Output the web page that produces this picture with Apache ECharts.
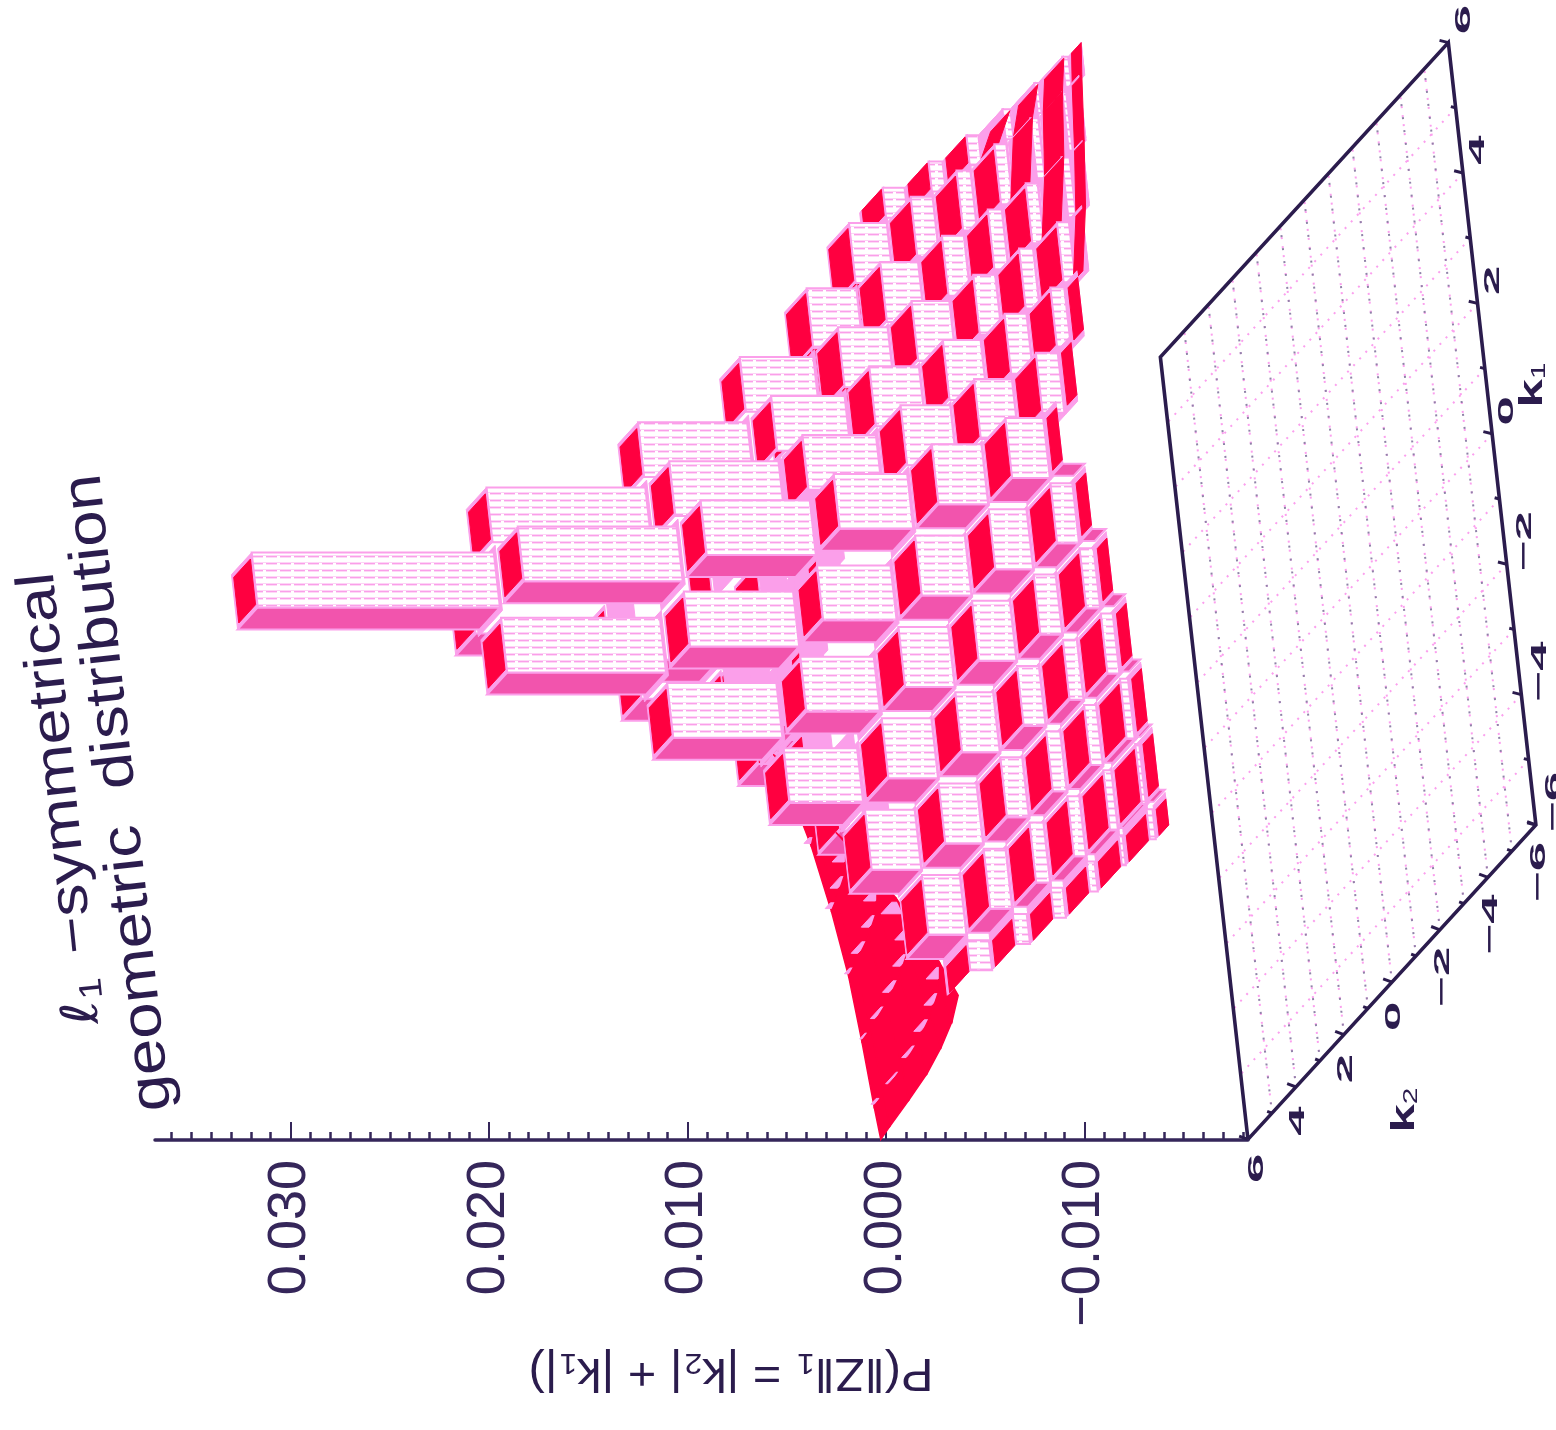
<!DOCTYPE html>
<html>
<head>
<meta charset="utf-8">
<style>html,body{margin:0;padding:0;background:#fff}#c{width:1556px;height:1430px}</style>
<script src="https://cdn.jsdelivr.net/npm/echarts@6/dist/echarts.min.js"></script>
</head>
<body>
<div id="c"></div>
<script>
// ---- data ----
const k2Values = [-6,-5,-4,-3,-2,-1,0,1,2,3,4,5,6];
const k1Values = [6,5,4,3,2,1,0,-1,-2,-3,-4,-5,-6];
// probability x 1e-4; rows are k1 = 6 ... -6, columns are k2 = -6 ... 6
const rowK1p6 = [0,3,5,9,15,22,33,22,15,9,5,3,0];
const rowK1p5 = [3,5,9,15,22,33,52,33,22,15,9,5,3];
const rowK1p4 = [5,9,15,22,33,52,77,52,33,22,15,9,5];
const rowK1p3 = [9,15,22,33,52,77,114,77,52,33,22,15,9];
const rowK1p2 = [15,22,33,52,77,114,169,114,77,52,33,22,15];
const rowK1p1 = [22,33,52,77,114,169,249,169,114,77,52,33,22];
const rowK1z0 = [33,52,77,114,169,249,371,249,169,114,77,52,33];
const rowK1m1 = [22,33,52,77,114,169,249,169,114,77,52,33,22];
const rowK1m2 = [15,22,33,52,77,114,169,114,77,52,33,22,15];
const rowK1m3 = [9,15,22,33,52,77,114,77,52,33,22,15,9];
const rowK1m4 = [5,9,15,22,33,52,77,52,33,22,15,9,5];
const rowK1m5 = [3,5,9,15,22,33,52,33,22,15,9,5,3];
const rowK1m6 = [0,3,5,9,15,22,33,22,15,9,5,3,0];
const rows = [rowK1p6,rowK1p5,rowK1p4,rowK1p3,rowK1p2,rowK1p1,rowK1z0,rowK1m1,rowK1m2,rowK1m3,rowK1m4,rowK1m5,rowK1m6];
const zTickLabels = [0.03,0.02,0.01,0,-0.01];
const kTickLabels = [6,4,2,0,-2,-4,-6];

// ---- view ----
const Z_FLOOR = -0.0185, PX_PER_Z = 19850;
const scaleP = 1e-4;
function inGrid(k1,k2){return Math.abs(k1)<=6&&Math.abs(k2)<=6;}
function height(k1,k2){
  if(!inGrid(k1,k2)) return 0;
  return rows[k1Values.indexOf(k1)][k2Values.indexOf(k2)]*scaleP;
}
function clampK(k){return Math.max(-6,Math.min(6,k));}
// oblique projection expressed in the two axes of the grid
function proj(api,k1,k2,z){
  const xv = z - (95 + 24*(-k2) - 7.3*k1)/PX_PER_Z;
  const yv = 591 + 26.2*k2 - 65.2*k1;
  return api.coord([xv,yv]);
}
function hatch(){
  const c=document.createElement('canvas');c.width=14;c.height=7;
  const g=c.getContext('2d');g.fillStyle='#fff';g.fillRect(0,0,14,7);
  g.fillStyle='#fa9fe9';g.fillRect(0,3,11,1.4);g.fillStyle='#fdd5f6';g.fillRect(0,2,14,1);
  return c;
}
const hatchFill={image:hatch(),repeat:'repeat'};
const RED='#ff0040',MID='#f254ad',RIM='#fb9fea';
function quad(pts,fill,stroke,lw){
  return {type:'polygon',shape:{points:pts},style:{fill:fill,stroke:stroke||fill,lineWidth:lw===undefined?1:lw}};
}
const cells=[];
k1Values.forEach(a=>k2Values.slice().reverse().forEach(b=>cells.push([a,b,height(a,b)])));
// mean level of the cells that meet at a cell corner
function cornerLevel(k1,k2,sa,sb){
  let sum=0,cnt=0;
  [[0,0],[sa,0],[0,sb],[sa,sb]].forEach(d=>{ if(inGrid(k1+d[0],k2+d[1])){sum+=height(k1+d[0],k2+d[1]);cnt++;} });
  return sum/cnt;
}

function renderCell(params,api){
  const k1=api.value(0),k2=api.value(1),z=api.value(2);
  const onEdge=Math.abs(k1)===6||Math.abs(k2)===6;
  let low=z;
  if(!onEdge) [[1,0],[-1,0],[0,1],[0,-1]].forEach(d=>{ low=Math.min(low,height(k1+d[0],k2+d[1])); });
  const children=[];
  const P=(da,db,zz)=>proj(api,clampK(k1+da),clampK(k2+db),zz);
  const n=Math.abs(k1)+Math.abs(k2);
  const HALF = n<4?0.42:0.46, TOPH = n<4?0.35:0.4;
  const aQuad = k1<0 && k2>0 && n>=5;
  const cQuad = k1>0 && k2<0 && n>=9;
  const nearK1=inGrid(k1-1,k2)?height(k1-1,k2):z;
  const nearK2=inGrid(k1,k2-1)?height(k1,k2-1):z;
  const b1=Math.min(z,nearK1), b2=Math.min(z,nearK2);
  if(aQuad){
    // the flat corner next to k1=-6, k2=6 reads as one sloped red sheet
    children.push(quad([P(-.5,-.5,cornerLevel(k1,k2,-1,-1)),P(-.5,.5,cornerLevel(k1,k2,-1,1)),
      P(.5,.5,cornerLevel(k1,k2,1,1)),P(.5,-.5,cornerLevel(k1,k2,1,-1))],RED,RED,1.5));
    if(z>b1){
      const tip=z-(z-b1)*.55;
      children.push(quad([P(-.46,-.22,z),P(-.46,.22,z),P(-.46,.22,tip),P(-.46,-.22,tip)],RIM,RIM,1));
    }
    return {type:'group',children:children};
  }
  children.push(quad([P(-.5,-.5,low),P(-.5,.5,low),P(.5,.5,low),P(.5,-.5,low)],RIM,RIM,1));
  // wall facing the k1 = -6 edge
  if(z>b1) children.push(quad([P(-HALF,-HALF,z),P(-HALF,HALF,z),P(-HALF,HALF,b1),P(-HALF,-HALF,b1)],MID,RIM,2));
  // wall facing the k2 = -6 edge
  if(z>b2) children.push(quad([P(-HALF,-HALF,z),P(HALF,-HALF,z),P(HALF,-HALF,b2),P(-HALF,-HALF,b2)],hatchFill,RIM,2));
  // top: reaches the outer border on the border cells
  children.push(quad([P(-HALF,-HALF,z),P(-HALF,HALF,z),P(HALF,HALF,z),P(HALF,-HALF,z)],RIM,RIM,1));
  const aLo = k1===-6?-.5:-TOPH, aHi = k1===6?.5:TOPH, bLo = k2===-6?-.5:-TOPH, bHi = k2===6?.5:TOPH;
  if(cQuad){
    // long stripes toward the k1=6, k2=-6 corner
    const zf=(z+height(k1+1,k2))/2, zn=(z+height(k1-1,k2))/2;
    children.push(quad([P(-.5,bLo,zn),P(-.5,bHi,zn),P(.5,bHi,zf),P(.5,bLo,zf)],RED,RED,1));
  } else {
    children.push(quad([P(aLo,bLo,z),P(aLo,bHi,z),P(aHi,bHi,z),P(aHi,bLo,z)],RED,RED,1));
  }
  return {type:'group',children:children};
}

// floor: outline, dotted grid and ticks
const floorItems=[];
k2Values.forEach(k=>floorItems.push(['v',k]));
k1Values.forEach(k=>floorItems.push(['u',k]));
function renderFloor(params,api){
  const kind=params.dataIndex<13?'v':'u', k=api.value(1);
  const ends = kind==='v' ? [proj(api,-6,k,Z_FLOOR),proj(api,6,k,Z_FLOOR)] : [proj(api,k,-6,Z_FLOOR),proj(api,k,6,Z_FLOOR)];
  const ln=(c,d,off)=>({type:'line',shape:{x1:ends[0][0],y1:ends[0][1],x2:ends[1][0],y2:ends[1][1]},
    style:{stroke:c,lineWidth:2,lineDash:d,lineDashOffset:off}});
  const kids=[ln('#fb9fee',[2,7],0)];
  if(kind==='v') kids.push(ln('#8f83a8',[2,11],4));
  return {type:'group',children:kids};
}
const outlineCorners=[[-6,6],[-6,-6],[6,-6],[6,6],[-6,6]];
function renderOutline(params,api){
  const pts=outlineCorners.map(c=>proj(api,c[0],c[1],Z_FLOOR));
  const kids=[{type:'polyline',shape:{points:pts},style:{stroke:'#2b1c4d',lineWidth:3.6,fill:null}}];
  k2Values.forEach(k=>{
    const a=proj(api,-6,k,Z_FLOOR),L=k%2===0?11:6;
    kids.push({type:'line',shape:{x1:a[0],y1:a[1],x2:a[0]-L*.8,y2:a[1]-L*.3},style:{stroke:'#2b1c4d',lineWidth:3}});
    const c=proj(api,k,-6,Z_FLOOR);
    kids.push({type:'line',shape:{x1:c[0],y1:c[1],x2:c[0]-L*.8,y2:c[1]-L*.2},style:{stroke:'#2b1c4d',lineWidth:3}});
  });
  return {type:'group',children:kids};
}
// tick labels of the floor axes
const k2Labels=kTickLabels.map(k=>[k,0]);
const k1Labels=kTickLabels.map(k=>[k,0]);
function kText(x,y,t){
  return {type:'text',x:x,y:y,rotation:Math.PI/2,scaleX:2.2,scaleY:0.95,
    style:{text:t,fontFamily:'Liberation Sans',fontSize:24,fill:'#2b1c4d',fontWeight:'bold',align:'center',verticalAlign:'middle'}};
}
function labelText(k){return k<0?'\u2212'+Math.abs(k):String(k);}
function renderK2Label(params,api){
  const k=api.value(0),p=proj(api,-6,k,Z_FLOOR);
  if(k===6) return kText(p[0]+9,p[1]+29,labelText(k));
  return kText(p[0]+(k<0?3:2), p[1]+(k<0?47:34), labelText(k));
}
function renderK1Label(params,api){
  const k=api.value(0),p=proj(api,k,-6,Z_FLOOR);
  return kText(p[0]+(k<0?18:15), p[1]-23, labelText(k));
}
const axisColor='#35265a';
const zMinorTicks=[];
for(let i=-18;i<=36;i++) if(i%10!==0) zMinorTicks.push(i/1000);

const chart=echarts.init(document.getElementById('c'),null,{renderer:'canvas',width:1556,height:1430});
chart.setOption({
  animation:false,backgroundColor:'#fff',
  grid:{left:155,top:0,width:1093,height:1140},
  xAxis:[{
    type:'value',inverse:true,min:-0.01824,max:0.03683,position:'bottom',splitLine:{show:false},
    axisLine:{show:true,onZero:false,lineStyle:{color:axisColor,width:3.5}},
    axisTick:{show:true,inside:true,length:18,customValues:zTickLabels,lineStyle:{color:axisColor,width:2}},
    axisLabel:{show:true,rotate:90,margin:20,customValues:zTickLabels,color:axisColor,
      fontFamily:'Liberation Sans',fontSize:54,formatter:v=>(v<0?'\u2212':'')+Math.abs(v).toFixed(3)}
  },{
    type:'value',inverse:true,min:-0.01824,max:0.03683,position:'bottom',splitLine:{show:false},
    axisLine:{show:false,onZero:false},axisLabel:{show:false},
    axisTick:{show:true,inside:true,length:8,customValues:zMinorTicks,lineStyle:{color:axisColor,width:2.5}}
  }],
  yAxis:{type:'value',inverse:true,min:0,max:1140,show:false},
  series:[
    {type:'custom',coordinateSystem:'cartesian2d',clip:false,silent:true,data:floorItems.map(d=>[0,d[1]]),renderItem:renderFloor,z:1},
    {type:'custom',coordinateSystem:'cartesian2d',clip:false,silent:true,data:[[0,0]],renderItem:renderOutline,z:2},
    {type:'custom',coordinateSystem:'cartesian2d',clip:false,silent:true,data:k2Labels,renderItem:renderK2Label,z:2},
    {type:'custom',coordinateSystem:'cartesian2d',clip:false,silent:true,data:k1Labels,renderItem:renderK1Label,z:2},
    {type:'custom',coordinateSystem:'cartesian2d',clip:false,silent:true,data:cells,renderItem:renderCell,z:3}
  ],
  graphic:[
    {type:'text',x:112,y:1022,rotation:(90+6)*Math.PI/180,scaleX:1.2,style:{
      rich:{a:{fontFamily:'DejaVu Sans',fontSize:50,fill:'#2b1c4d',fontStyle:'italic'},
            s:{fontFamily:'Liberation Sans',fontSize:32,fill:'#2b1c4d',verticalAlign:'bottom',padding:[22,6,0,0]},
            t:{fontFamily:'Liberation Sans',fontSize:54,fill:'#2b1c4d'}},
      text:'{a|\u2113}{s|1}{t| \u2212symmetrical}',align:'left',verticalAlign:'bottom'}},
    {type:'text',x:183,y:1108,rotation:(90+6.4)*Math.PI/180,scaleX:1.17,style:{
      text:'geometric  distribution',fontFamily:'Liberation Sans',fontSize:56,fill:'#2b1c4d',align:'left',verticalAlign:'bottom'}},
    {type:'text',x:731,y:1372,rotation:Math.PI,scaleX:1.06,style:{
      rich:{t:{fontFamily:'Liberation Sans',fontSize:46,fill:'#2b1c4d'},
            s:{fontFamily:'Liberation Sans',fontSize:30,fill:'#2b1c4d',padding:[20,2,0,0]}},
      text:'{t|P(\u2016Z\u2016}{s|1}{t| = |k}{s|2}{t|| + |k}{s|1}{t||)}',align:'center',verticalAlign:'middle'}},
    {type:'text',x:1405,y:1110,rotation:Math.PI/2,scaleX:1.5,style:{
      rich:{t:{fontFamily:'Liberation Sans',fontSize:34,fill:'#2b1c4d',fontWeight:'bold'},s:{fontFamily:'Liberation Sans',fontSize:20,fill:'#2b1c4d',padding:[12,0,0,0]}},
      text:'{t|k}{s|2}',align:'center',verticalAlign:'middle'}},
    {type:'text',x:1533,y:385,rotation:Math.PI/2,scaleX:1.5,style:{
      rich:{t:{fontFamily:'Liberation Sans',fontSize:34,fill:'#2b1c4d',fontWeight:'bold'},s:{fontFamily:'Liberation Sans',fontSize:20,fill:'#2b1c4d',padding:[12,0,0,0]}},
      text:'{t|k}{s|1}',align:'center',verticalAlign:'middle'}}
  ]
});
</script>
</body>
</html>
